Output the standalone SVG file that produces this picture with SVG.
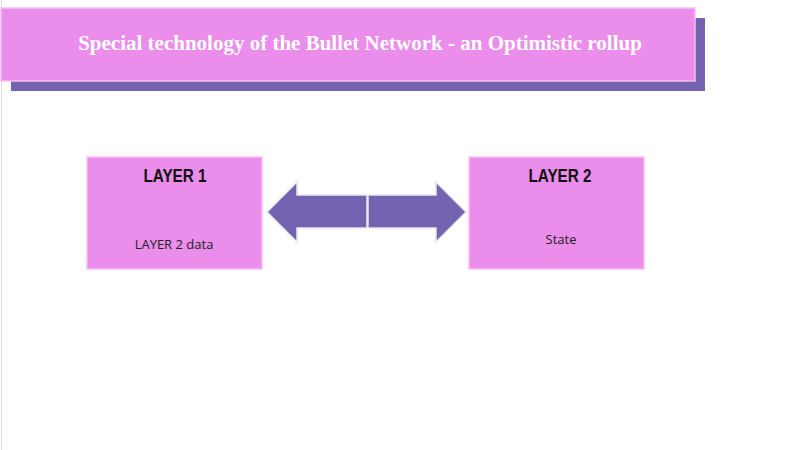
<svg xmlns="http://www.w3.org/2000/svg" width="806" height="450" viewBox="0 0 806 450">
<style>
.box{fill:#eb8deb;stroke:#f5c0f5;stroke-width:1.5}
.arr{fill:#7463b0;stroke:#e8e8e8;stroke-width:1.5}
.hd{font-family:"Liberation Sans Narrow","Liberation Sans",sans-serif;font-weight:bold;font-size:18px;fill:#111;text-anchor:middle}
.bd{font-family:"Open Sans","Liberation Sans",sans-serif;font-size:13px;fill:#222;text-anchor:middle}
</style>
<rect width="806" height="450" fill="#fff"/>
<line x1="1.5" y1="0" x2="1.5" y2="450" stroke="#ddd"/>
<g id="title">
<rect x="11" y="18" width="694" height="73" fill="#7463b0"/>
<rect x="1" y="8" width="694" height="73" class="box"/>
<text x="360" y="50" font-family="'Liberation Serif',serif" font-weight="bold" font-size="21" fill="#fff" text-anchor="middle">Special technology of the Bullet Network - an Optimistic rollup</text>
</g>
<g id="layer1">
<rect x="87" y="157" width="175" height="112" class="box"/>
<text x="175" y="182" class="hd" transform="translate(175 0) scale(0.85 1) translate(-175 0)">LAYER 1</text>
<text x="174" y="249" class="bd">LAYER 2 data</text>
</g>
<g id="layer2">
<rect x="469" y="157" width="175" height="112" class="box"/>
<text x="560" y="182" class="hd" transform="translate(560 0) scale(0.85 1) translate(-560 0)">LAYER 2</text>
<text x="561" y="244" class="bd">State</text>
</g>
<g id="connectors">
<polygon class="arr" points="267,212 297,182 297,195 367,195 367,228 297,228 297,242"/>
<polygon class="arr" points="466,212 436,182 436,195 368,195 368,228 436,228 436,242"/>
</g>
</svg>
